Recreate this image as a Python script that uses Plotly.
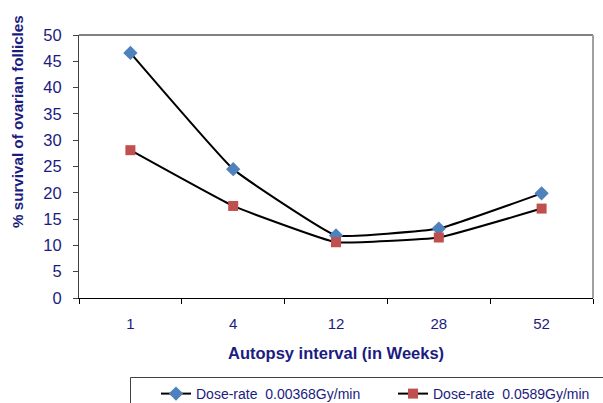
import plotly.graph_objects as go

categories = ["1", "4", "12", "28", "52"]
series1_name = "Dose-rate  0.00368Gy/min"
series1 = [46.6, 24.5, 11.9, 13.2, 19.9]
series2_name = "Dose-rate  0.0589Gy/min"
series2 = [28.1, 17.5, 10.6, 11.5, 17.0]
y_ticks = list(range(0, 55, 5))

NAVY = "#1c1c80"
FONT = "Liberation Sans, Arial, sans-serif"

W, H = 603, 403
L, R, T, B = 79, 10, 35, 105
pw, ph = W - L - R, H - T - B

def px(x):
    return (x - L) / pw

def py(y):
    return (H - B - y) / ph

fig = go.Figure()
fig.add_trace(go.Scatter(
    x=categories, y=series1, name=series1_name, mode="lines+markers",
    line=dict(color="black", width=2, shape="spline", smoothing=0.3),
    marker=dict(symbol="diamond", size=11, color="#4F81BD"),
))
fig.add_trace(go.Scatter(
    x=categories, y=series2, name=series2_name, mode="lines+markers",
    line=dict(color="black", width=2, shape="spline", smoothing=0.3),
    marker=dict(symbol="square", size=10, color="#C0504D"),
))

fig.update_layout(
    width=W, height=H,
    margin=dict(l=L, r=R, t=T, b=B, autoexpand=False),
    paper_bgcolor="white", plot_bgcolor="white",
    font=dict(family=FONT, color=NAVY, size=14),
    showlegend=True,
    legend=dict(
        orientation="h", x=px(156), y=py(378), xanchor="left", yanchor="top",
        font=dict(size=14, color=NAVY, family=FONT),
        bgcolor="rgba(0,0,0,0)", entrywidth=192, entrywidthmode="pixels",
        tracegroupgap=0,
    ),
    xaxis=dict(
        type="category", range=[-0.5, 4.5], tickson="boundaries",
        ticks="outside", ticklen=5, tickcolor="black",
        showline=True, linecolor="black", linewidth=1,
        showgrid=False, zeroline=False, ticklabelstandoff=12,
        tickfont=dict(size=15, color=NAVY, family=FONT),
    ),
    yaxis=dict(
        range=[0, 50], tickvals=y_ticks,
        ticks="outside", ticklen=5, tickcolor="#404040",
        showline=True, linecolor="#404040", linewidth=1,
        showgrid=False, zeroline=False, ticklabelstandoff=8,
        tickfont=dict(size=16.5, color=NAVY, family=FONT),
    ),
    shapes=[
        dict(type="line", xref="paper", yref="paper", x0=0, x1=1, y0=1, y1=1,
             line=dict(color="#808080", width=2)),
        dict(type="line", xref="paper", yref="paper", x0=1, x1=1, y0=0, y1=1,
             line=dict(color="#a0a0a0", width=2)),
        dict(type="rect", xref="paper", yref="paper",
             x0=px(130.5), x1=px(620), y0=py(377.5), y1=py(420),
             line=dict(color="#404040", width=1)),
    ],
    annotations=[
        dict(text="<b>% survival of ovarian follicles</b>", textangle=-90,
             xref="paper", yref="paper", x=px(17), y=py(122),
             xanchor="center", yanchor="middle", showarrow=False,
             font=dict(size=15.2, color=NAVY, family=FONT)),
        dict(text="<b>Autopsy interval (in Weeks)</b>",
             xref="paper", yref="paper", x=px(336), y=py(353),
             xanchor="center", yanchor="middle", showarrow=False,
             font=dict(size=16.5, color=NAVY, family=FONT)),
    ],
)

fig.write_html("out.html")
